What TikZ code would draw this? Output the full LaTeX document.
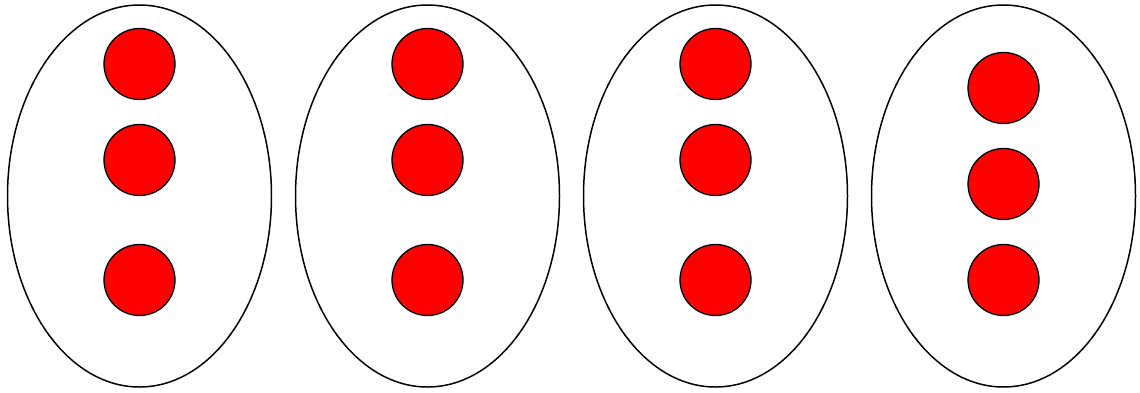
\documentclass[tikz,border=0pt]{standalone}
\usepackage{tikz}
\usetikzlibrary{shapes.geometric}

\begin{document}
\begin{tikzpicture}[group/.style={draw, ellipse, line width=0.85pt, inner sep=0pt, minimum width=5.28cm, minimum height=7.64cm},
  dot/.style={draw, circle, fill=red, line width=0.75pt, inner sep=0pt, minimum size=1.42cm},]
\useasboundingbox (0,0) rectangle (22.8,7.84);
\node[group] (A) at (2.79, 3.92) {};
\node[group] (B) at (8.55, 3.92) {};
\node[group] (C) at (14.31, 3.92) {};
\node[group] (D) at (20.07, 3.92) {};
\node[dot] (A1) at (2.79, 6.56) {};
\node[dot] (A2) at (2.79, 4.64) {};
\node[dot] (A3) at (2.79, 2.24) {};
\node[dot] (B1) at (8.55, 6.56) {};
\node[dot] (B2) at (8.55, 4.64) {};
\node[dot] (B3) at (8.55, 2.24) {};
\node[dot] (C1) at (14.31, 6.56) {};
\node[dot] (C2) at (14.31, 4.64) {};
\node[dot] (C3) at (14.31, 2.24) {};
\node[dot] (D1) at (20.07, 6.08) {};
\node[dot] (D2) at (20.07, 4.16) {};
\node[dot] (D3) at (20.07, 2.24) {};
\end{tikzpicture}
\end{document}
